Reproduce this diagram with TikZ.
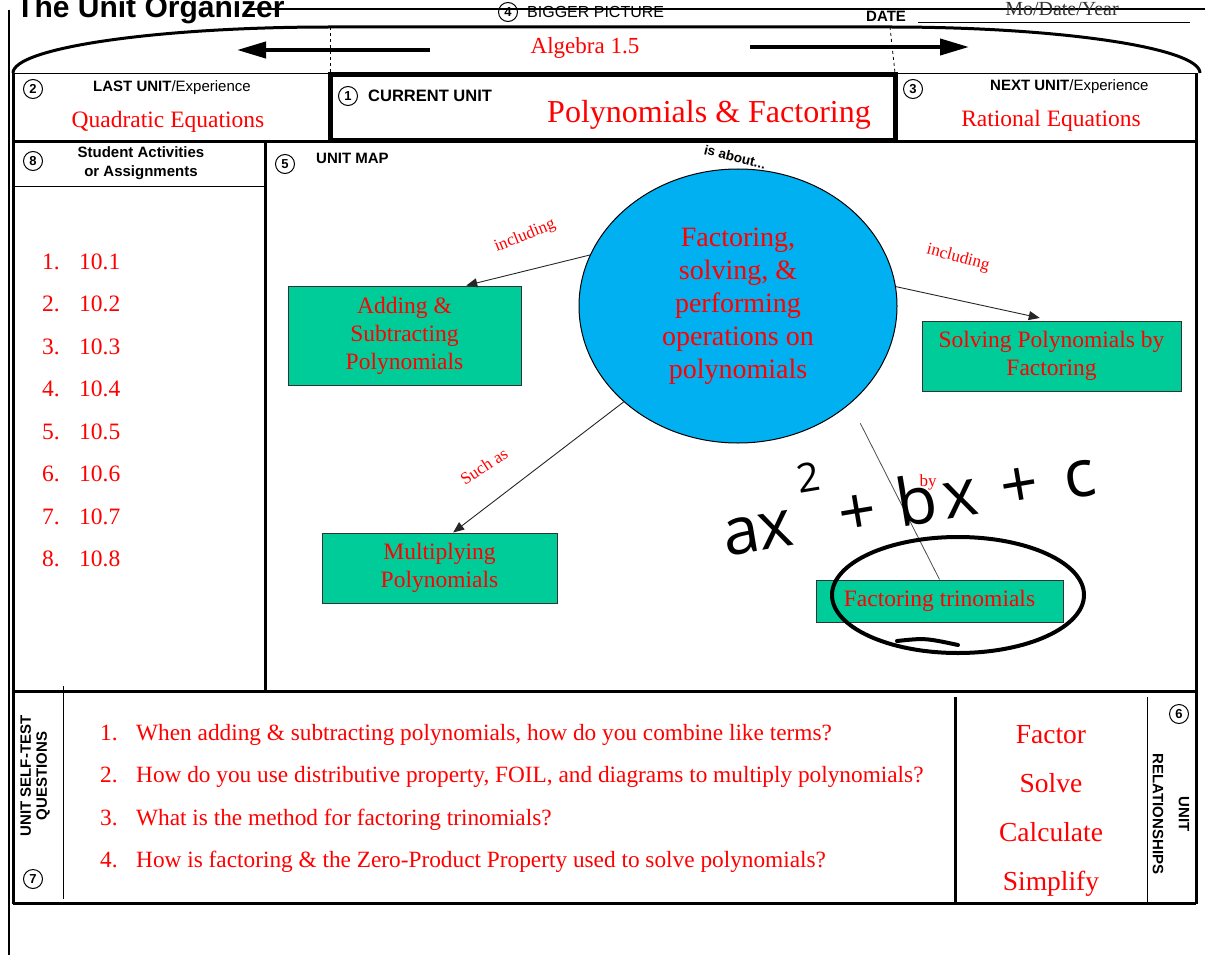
\documentclass[tikz,border=0pt]{standalone}
\usepackage{fontspec}
\setmainfont{Liberation Serif}
\setsansfont{Liberation Sans}
\newfontfamily\handfont{Open Sans}
\usetikzlibrary{arrows.meta,positioning,shapes.geometric}

\definecolor{mapred}{HTML}{FF0000}
\definecolor{hubblue}{HTML}{00B0F0}
\definecolor{boxgreen}{HTML}{00CC99}

\tikzset{
  redtxt/.style={text=mapred, inner sep=0, align=center, font=\fontsize{23.5}{28}\selectfont},
  mapbox/.style={draw=black!80, fill=boxgreen, line width=1, text=mapred, align=center, inner sep=0, font=\fontsize{23.5}{28}\selectfont},
  numcirc/.style={circle, draw, line width=1, inner sep=0, minimum size=19, font=\sffamily\bfseries\fontsize{13}{13}\selectfont},
  hdr/.style={inner sep=0, align=center, font=\sffamily\bfseries\fontsize{15}{19}\selectfont},
  linklbl/.style={text=mapred, inner sep=0, font=\fontsize{17}{17}\selectfont},
  maparrow/.style={-{Triangle[length=11pt,width=9pt]}, line width=0.9, draw=black!85},
  bigarrow/.style={-{Triangle[length=29pt,width=16pt]}, line width=4},
  handline/.style={line width=4, line cap=round},
}

\begin{document}
\begin{tikzpicture}[x=1pt,y=-1pt]
  \useasboundingbox (0,0) rectangle (1205,955);
  \clip (0,0) rectangle (1205,955);

  % outline
  \draw[line width=1.2] (250,9) -- (1205,9);
  \draw[line width=1.5] (9,10) -- (9,955);
  \draw[line width=3] (13,73) -- (13,904);
  \draw[line width=3] (1196,73) -- (1196,904);

  % title and bigger picture
  \node[anchor=base west, inner sep=0, font=\sffamily\bfseries\fontsize{30}{30}\selectfont] (title) at (16,18) {The Unit Organizer};
  \node[numcirc] (n4) at (508,12) {4};
  \node[anchor=base west, inner sep=0, font=\sffamily\fontsize{16}{16}\selectfont] (bigpic) at (527,18) {BIGGER PICTURE};
  \node[anchor=base west, hdr] (date) at (866,22) {DATE};
  \draw[line width=0.8] (918,22) -- (1190,22);
  \node[anchor=base, inner sep=0, text=black!80, font=\fontsize{20}{20}\selectfont] (mdy) at (1062,16) {Mo/Date/Year};

  \draw[line width=3] (13,73) .. controls (13,48) and (156,27) .. (330,27) -- (890,27)
        .. controls (1060,27) and (1200,48) .. (1200,73);
  \draw[dashed, line width=0.8] (330,27) -- (330,73);
  \draw[dashed, line width=0.8] (890,27) -- (895,73);

  \node[redtxt, font=\fontsize{23}{23}\selectfont] (alg) at (585,48) {Algebra 1.5};
  \coordinate (lftS) at (430,50);
  \coordinate (lftE) at (237,50);
  \coordinate (rgtS) at (750,47);
  \coordinate (rgtE) at (969,47);
  \draw[bigarrow] (lftS) -- (lftE);
  \draw[bigarrow] (rgtS) -- (rgtE);

  % last / current / next unit
  \draw[line width=1] (13,74) -- (330,74) (897,74) -- (1196,74);
  \draw[line width=3] (13,142) -- (1196,142);
  \draw[line width=5] (330,75) rectangle (895,141);

  \node[numcirc] (n2) at (33,89) {2};
  \node[anchor=west, inner sep=0, font=\sffamily\fontsize{15}{15}\selectfont] (last) at (93,88) {\textbf{LAST UNIT}/Experience};
  \node[redtxt] (lastu) at (168,122) {Quadratic Equations};

  \node[numcirc] (n1) at (348,96) {1};
  \node[anchor=west, hdr, font=\sffamily\bfseries\fontsize{16.5}{16.5}\selectfont] (cur) at (368,96) {CURRENT UNIT};
  \node[redtxt, font=\fontsize{32}{32}\selectfont] (curu) at (709,115) {Polynomials \& Factoring};

  \node[numcirc] (n3) at (913,89) {3};
  \node[anchor=west, inner sep=0, font=\sffamily\fontsize{15}{15}\selectfont] (next) at (990,87) {\textbf{NEXT UNIT}/Experience};
  \node[redtxt] (nextu) at (1051,121) {Rational Equations};

  % student activities
  \draw[line width=3] (265,142) -- (265,691);
  \draw[line width=1] (13,186) -- (265,186);
  \node[numcirc] (n8) at (33,161) {8};
  \node[hdr] (acts) at (141,163) {Student Activities\\or Assignments};
  \foreach \i in {1,...,8} {
    \node[redtxt, anchor=base west] (num\i) at (42,{269+42.5*(\i-1)}) {\i.};
    \node[redtxt, anchor=base west] (sec\i) at (79,{269+42.5*(\i-1)}) {10.\i};
  }

  % unit map
  \node[numcirc] (n5) at (285,164) {5};
  \node[anchor=west, hdr] (umap) at (316,158) {UNIT MAP};

  \node[ellipse, draw, line width=1, fill=hubblue, minimum width=318, minimum height=274, inner sep=0,
        text=mapred, align=center, font=\fontsize{28}{33}\selectfont] (hub) at (738,306)
        {Factoring,\\solving, \&\\performing\\operations on\\polynomials};
  \node[inner sep=0, rotate=-14, font=\sffamily\bfseries\fontsize{13.5}{13.5}\selectfont] (about) at (735,157) {is about...};

  \node[mapbox, minimum width=233, minimum height=99] (add) at (404.5,335.5) {Adding \&\\Subtracting\\Polynomials};
  \node[mapbox, minimum width=259, minimum height=70] (solve) at (1051.5,356) {Solving Polynomials by\\Factoring};
  \node[mapbox, minimum width=235, minimum height=70] (mult) at (439.5,568) {Multiplying\\Polynomials};
  \node[mapbox, minimum width=247, minimum height=42] (trin) at (939.5,601) {Factoring trinomials};

  \draw[maparrow] (hub.161) -- (add.39);
  \node[linklbl, rotate=22] (inc1) at (525,236) {including};
  \draw[maparrow, shorten >=12pt] (hub.7) -- (solve.north);
  \node[linklbl, rotate=-15] (inc2) at (958,258) {including};
  \draw[maparrow] (hub.220) -- (mult.69);
  \node[linklbl, rotate=33] (such) at (484,466) {Such as};
  \draw[line width=0.8, draw=black!70, shorten <=22pt] (hub.-41) -- (trin.north);
  \node[linklbl] (by) at (928,482) {by};

  % handwriting
  \node[inner sep=0, rotate=9.5, font=\handfont\fontsize{66}{66}\selectfont] (hand) at (906,487)
        {a\hspace{-1pt}x\hspace{12pt}\raisebox{50pt}{\fontsize{40}{40}\selectfont 2}\hspace{12pt}+\hspace{22pt}b\hspace{6pt}x\hspace{24pt}+\hspace{26pt}c};
  \draw[handline] (958,595) ellipse [x radius=126, y radius=58];
  \draw[handline] (897,641) .. controls (925,638) .. (958,645);

  % self-test questions
  \draw[line width=3] (13,691) -- (1196,691);
  \draw[line width=3] (13,903) -- (1196,903);
  \draw[line width=1] (63,686) -- (63,899);
  \node[hdr, rotate=90, font=\sffamily\bfseries\fontsize{15}{16}\selectfont] (selftest) at (35,776) {UNIT SELF-TEST\\QUESTIONS};
  \node[numcirc] (n7) at (33,879) {7};
  \foreach \q/\txt [count=\k] in {
      740/{When adding \& subtracting polynomials, how do you combine like terms?},
      782/{How do you use distributive property, FOIL, and diagrams to multiply polynomials?},
      825/{What is the method for factoring trinomials?},
      867/{How is factoring \& the Zero-Product Property used to solve polynomials?}} {
    \node[redtxt, anchor=base west, font=\fontsize{23.3}{23.3}\selectfont] (qn\k) at (100,\q) {\k.};
    \node[redtxt, anchor=base west, font=\fontsize{23.3}{23.3}\selectfont] (qt\k) at (136,\q) {\txt};
  }

  % unit relationships
  \draw[line width=3] (955,697) -- (955,903);
  \draw[line width=1] (1147,697) -- (1147,903);
  \node[numcirc] (n6) at (1179,714) {6};
  \node[hdr, rotate=-90, font=\sffamily\bfseries\fontsize{15}{26}\selectfont] (rel) at (1171,814) {UNIT\\RELATIONSHIPS};
  \foreach \w/\y [count=\k] in {Factor/743, Solve/792, Calculate/841, Simplify/890}
    \node[redtxt, anchor=base, font=\fontsize{27.5}{27.5}\selectfont] (rel\k) at (1051,\y) {\w};
\end{tikzpicture}
\end{document}
